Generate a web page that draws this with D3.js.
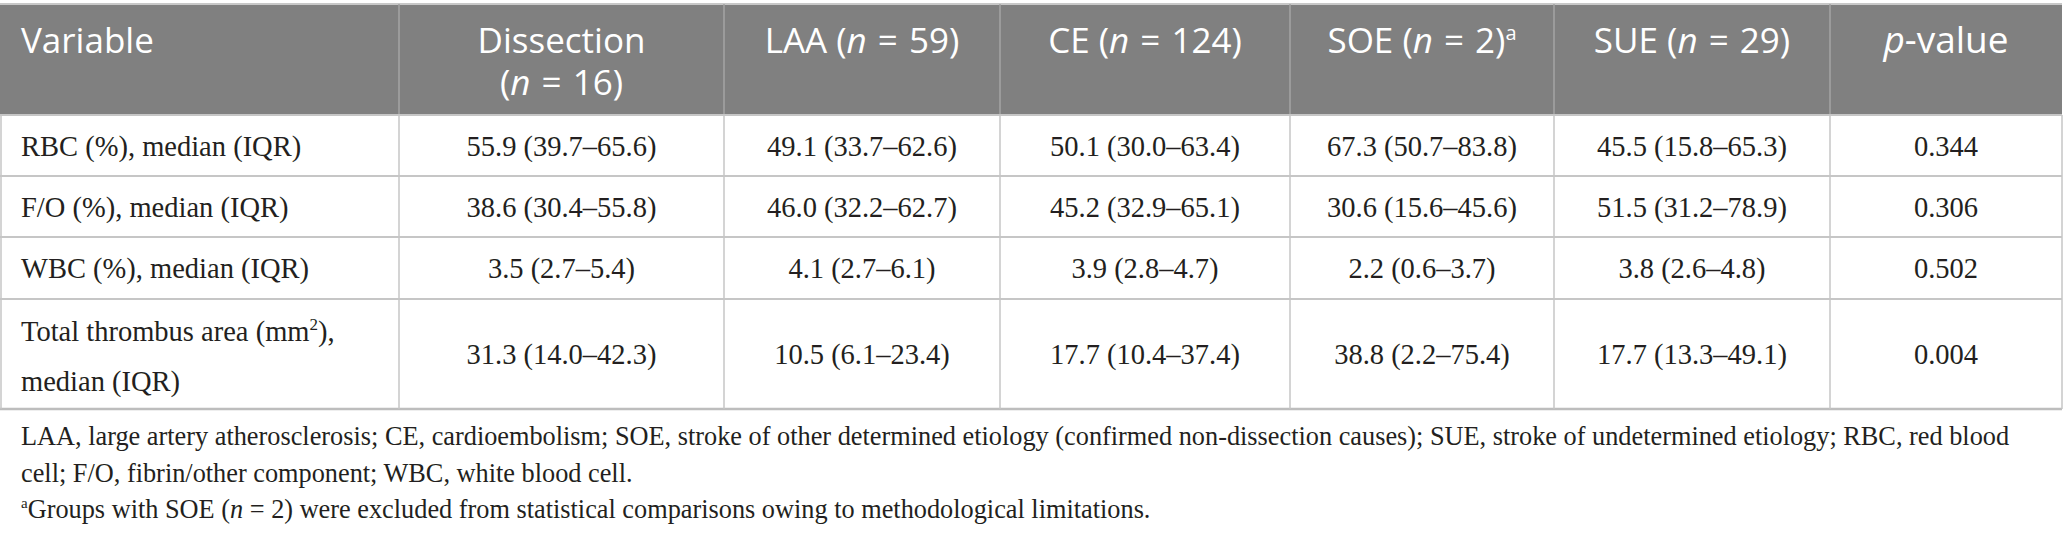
<!DOCTYPE html>
<html><head><meta charset="utf-8">
<script src="https://cdn.jsdelivr.net/npm/d3@7/dist/d3.min.js"></script>
<style>
html,body{margin:0;padding:0;background:#fff;}
svg{display:block;}
</style></head>
<body>
<svg id="chart" width="2067" height="537"></svg>
<script>
// ---- data ----
const groups = ["Dissection", "LAA", "CE", "SOE", "SUE"];
const groupN = [16, 59, 124, 2, 29];
const variables = ["RBC (%), median (IQR)", "F/O (%), median (IQR)", "WBC (%), median (IQR)", "Total thrombus area (mm²), median (IQR)"];
const rbcMedian = [55.9, 49.1, 50.1, 67.3, 45.5];
const rbcLow    = [39.7, 33.7, 30.0, 50.7, 15.8];
const rbcHigh   = [65.6, 62.6, 63.4, 83.8, 65.3];
const foMedian  = [38.6, 46.0, 45.2, 30.6, 51.5];
const foLow     = [30.4, 32.2, 32.9, 15.6, 31.2];
const foHigh    = [55.8, 62.7, 65.1, 45.6, 78.9];
const wbcMedian = [3.5, 4.1, 3.9, 2.2, 3.8];
const wbcLow    = [2.7, 2.7, 2.8, 0.6, 2.6];
const wbcHigh   = [5.4, 6.1, 4.7, 3.7, 4.8];
const areaMedian = [31.3, 10.5, 17.7, 38.8, 17.7];
const areaLow    = [14.0, 6.1, 10.4, 2.2, 13.3];
const areaHigh   = [42.3, 23.4, 37.4, 75.4, 49.1];
const pValues = [0.344, 0.306, 0.502, 0.004];
const footnotes = [
  "LAA, large artery atherosclerosis; CE, cardioembolism; SOE, stroke of other determined etiology (confirmed non-dissection causes); SUE, stroke of undetermined etiology; RBC, red blood",
  "cell; F/O, fibrin/other component; WBC, white blood cell.",
  "Groups with SOE (n = 2) were excluded from statistical comparisons owing to methodological limitations."
];

// ---- layout ----
const svg = d3.select("#chart");
const colKeys = ["var", ...groups, "p"];
const colEdges = [0, 399, 724, 1000, 1290, 1554, 1830, 2062];
const xL = d3.scaleOrdinal(colKeys, colEdges.slice(0, -1));
const xR = d3.scaleOrdinal(colKeys, colEdges.slice(1));
const xC = k => (xL(k) + xR(k)) / 2;
const rowKeys = ["header", "rbc", "fo", "wbc", "area"];
const rowEdges = [4, 115, 176, 237, 299, 409];
const yT = d3.scaleOrdinal(rowKeys, rowEdges.slice(0, -1));
const yB = d3.scaleOrdinal(rowKeys, rowEdges.slice(1));
const yC = k => (yT(k) + yB(k)) / 2;

const HEAD_FONT = "'Open Sans', sans-serif";
const BODY_FONT = "'Liberation Serif', 'Times New Roman', serif";
const GRID = "#c6c6c6";
const INK = "#231f20";

// header background
svg.append("rect").attr("x", 0).attr("y", yT("header")).attr("width", colEdges[7]).attr("height", yB("header") - yT("header")).attr("fill", "#808080");
svg.append("line").attr("x1", 0).attr("x2", colEdges[7]).attr("y1", yT("header")).attr("y2", yT("header")).attr("stroke", "#c8c8c8").attr("stroke-width", 2);

// header separators
svg.selectAll(".hsep").data(colKeys.slice(1)).enter().append("line")
  .attr("x1", d => xL(d)).attr("x2", d => xL(d))
  .attr("y1", yT("header")).attr("y2", yB("header"))
  .attr("stroke", "#a4a4a4").attr("stroke-width", 1.5);

// body grid
const bodyRows = rowKeys.slice(1);
svg.selectAll(".hline").data(bodyRows).enter().append("line")
  .attr("x1", 0).attr("x2", colEdges[7])
  .attr("y1", d => yT(d)).attr("y2", d => yT(d))
  .attr("stroke", GRID).attr("stroke-width", 2);
svg.append("line").attr("x1", 0).attr("x2", colEdges[7])
  .attr("y1", yB("area")).attr("y2", yB("area"))
  .attr("stroke", "#bdbdbd").attr("stroke-width", 2.5);
svg.selectAll(".vline").data(colEdges).enter().append("line")
  .attr("x1", d => d === 0 ? 1 : d).attr("x2", d => d === 0 ? 1 : d)
  .attr("y1", yB("header")).attr("y2", yB("area"))
  .attr("stroke", GRID).attr("stroke-width", 1.5);

// header text
const H1 = 53, H2 = 95;
const hdr = svg.append("g").attr("font-family", HEAD_FONT).attr("font-size", 35).attr("fill", "#fff");
hdr.append("text").attr("x", 21).attr("y", H1).text("Variable");
function nPart(t, n) {
  t.append("tspan").attr("font-style", "italic").text("n");
  t.append("tspan").attr("dx", 2).text(" = ");
  t.append("tspan").attr("dx", 2).text(n + ")");
}
groups.forEach((gname, i) => {
  const cx = xC(gname);
  if (gname === "Dissection") {
    hdr.append("text").attr("x", cx).attr("y", H1).attr("text-anchor", "middle").text(gname);
    const t2 = hdr.append("text").attr("x", cx).attr("y", H2).attr("text-anchor", "middle");
    t2.append("tspan").text("(");
    nPart(t2, groupN[i]);
  } else {
    const t = hdr.append("text").attr("x", cx).attr("y", H1).attr("text-anchor", "middle");
    t.append("tspan").text(gname + " (");
    nPart(t, groupN[i]);
    if (gname === "SOE") {
      t.append("tspan").attr("font-size", 20).attr("dy", -13).text("a");
    }
  }
});
{
  const t = hdr.append("text").attr("x", xC("p")).attr("y", H1).attr("text-anchor", "middle").attr("font-size", 37);
  t.append("tspan").attr("font-style", "italic").text("p");
  t.append("tspan").text("-value");
}

// body text
const f1 = d3.format(".1f"), f3 = d3.format(".3f");
const cell = (m, l, h) => `${f1(m)} (${f1(l)}–${f1(h)})`;
const tableRows = [
  { key: "rbc", med: rbcMedian, lo: rbcLow, hi: rbcHigh },
  { key: "fo", med: foMedian, lo: foLow, hi: foHigh },
  { key: "wbc", med: wbcMedian, lo: wbcLow, hi: wbcHigh },
  { key: "area", med: areaMedian, lo: areaLow, hi: areaHigh }
];
const body = svg.append("g").attr("font-family", BODY_FONT).attr("font-size", 28.5).attr("fill", INK);
tableRows.forEach((r, ri) => {
  const cy = yC(r.key) + 10;
  if (r.key === "area") {
    const t = body.append("text").attr("x", 21).attr("y", 341);
    t.append("tspan").text("Total thrombus area (mm");
    t.append("tspan").attr("font-size", 17).attr("dy", -11).text("2");
    t.append("tspan").attr("dy", 11).text("),");
    body.append("text").attr("x", 21).attr("y", 391).text("median (IQR)");
  } else {
    body.append("text").attr("x", 21).attr("y", cy).text(variables[ri]);
  }
  groups.forEach((g, gi) => {
    body.append("text").attr("x", xC(g)).attr("y", cy).attr("text-anchor", "middle")
      .text(cell(r.med[gi], r.lo[gi], r.hi[gi]));
  });
  body.append("text").attr("x", xC("p")).attr("y", cy).attr("text-anchor", "middle").text(f3(pValues[ri]));
});

// footnotes
const fn = svg.append("g").attr("font-family", BODY_FONT).attr("font-size", 26.3).attr("fill", INK);
fn.append("text").attr("x", 21).attr("y", 445).text(footnotes[0]);
fn.append("text").attr("x", 21).attr("y", 482).text(footnotes[1]);
{
  const t = fn.append("text").attr("x", 21).attr("y", 518);
  t.append("tspan").attr("font-size", 15).attr("dy", -10).text("a");
  t.append("tspan").attr("dy", 10).text("Groups with SOE (");
  t.append("tspan").attr("font-style", "italic").text("n");
  t.append("tspan").text(" = 2) were excluded from statistical comparisons owing to methodological limitations.");
}
</script>
</body></html>
